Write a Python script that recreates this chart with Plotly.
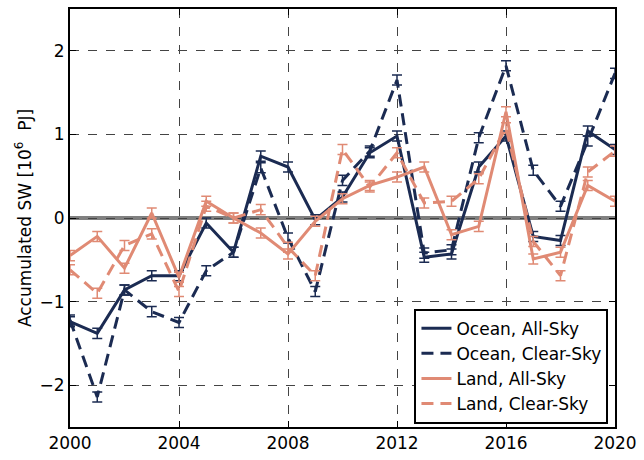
import plotly.graph_objects as go

years = list(range(2000, 2021))

ocean_all = [-1.24, -1.38, -0.86, -0.69, -0.69, -0.06, -0.41, 0.74, 0.61, -0.02,
             0.25, 0.78, 0.98, -0.47, -0.43, 0.61, 0.98, -0.22, -0.27, 1.04, 0.82]
ocean_clear = [-1.22, -2.14, -0.86, -1.12, -1.25, -0.63, -0.41, 0.60, -0.24, -0.88,
               0.45, 0.80, 1.65, -0.42, -0.38, 0.96, 1.82, 0.57, 0.14, 0.92, 1.73]
land_all = [-0.45, -0.22, -0.60, 0.06, -0.71, 0.20, 0.00, -0.18, -0.43, -0.04,
            0.23, 0.39, 0.49, 0.61, -0.20, -0.10, 1.27, -0.49, -0.41, 0.39, 0.20]
land_clear = [-0.62, -0.90, -0.33, -0.19, -0.88, 0.14, 0.00, 0.10, -0.35, -0.69,
              0.82, 0.37, 0.78, 0.18, 0.20, 0.47, 1.08, -0.28, -0.69, 0.55, 0.80]
err = [0.06] * len(years)

navy = "#1b2b52"
salmon = "#e08a74"

series = [
    ("Ocean, All-Sky", ocean_all, navy, "solid"),
    ("Ocean, Clear-Sky", ocean_clear, navy, "12px,7px"),
    ("Land, All-Sky", land_all, salmon, "solid"),
    ("Land, Clear-Sky", land_clear, salmon, "12px,7px"),
]

fig = go.Figure()
for name, vals, col, dash in series:
    fig.add_trace(go.Scatter(
        x=years, y=vals, mode="lines", name=name,
        line=dict(color=col, width=3, dash=dash),
        error_y=dict(type="data", array=err, visible=True, color=col,
                     thickness=1.5, width=5),
    ))

# grey reference line at zero
fig.add_shape(type="line", xref="paper", yref="y", x0=0, x1=1, y0=0, y1=0,
              line=dict(color="#808080", width=4), layer="below")

axis_common = dict(
    showline=True, linecolor="black", linewidth=2, mirror="allticks",
    ticks="inside", ticklen=6, tickcolor="black", tickwidth=1,
    showgrid=True, gridcolor="#444444", gridwidth=1, griddash="dash",
    zeroline=False, tickfont=dict(size=17, color="black"),
)

fig.update_layout(
    width=644, height=460,
    margin=dict(l=70, r=23, t=7, b=27),
    paper_bgcolor="white", plot_bgcolor="white",
    font=dict(family="DejaVu Sans", size=17, color="black"),
    xaxis=dict(range=[2000, 2020], tickvals=[2000, 2004, 2008, 2012, 2016, 2020],
               **axis_common),
    yaxis=dict(range=[-2.5, 2.5], tickvals=[-2, -1, 0, 1, 2],
               ticktext=["\u22122", "\u22121", "0", "1", "2"],
               title=dict(text="Accumulated SW [10<sup>6</sup>  PJ]", standoff=4,
                          font=dict(size=17)),
               **axis_common),
    legend=dict(x=0.988, y=0.008, xanchor="right", yanchor="bottom",
                bgcolor="white", bordercolor="black", borderwidth=2,
                font=dict(size=17), tracegroupgap=0, itemwidth=30),
    showlegend=True,
)

fig.write_html("out.html")
